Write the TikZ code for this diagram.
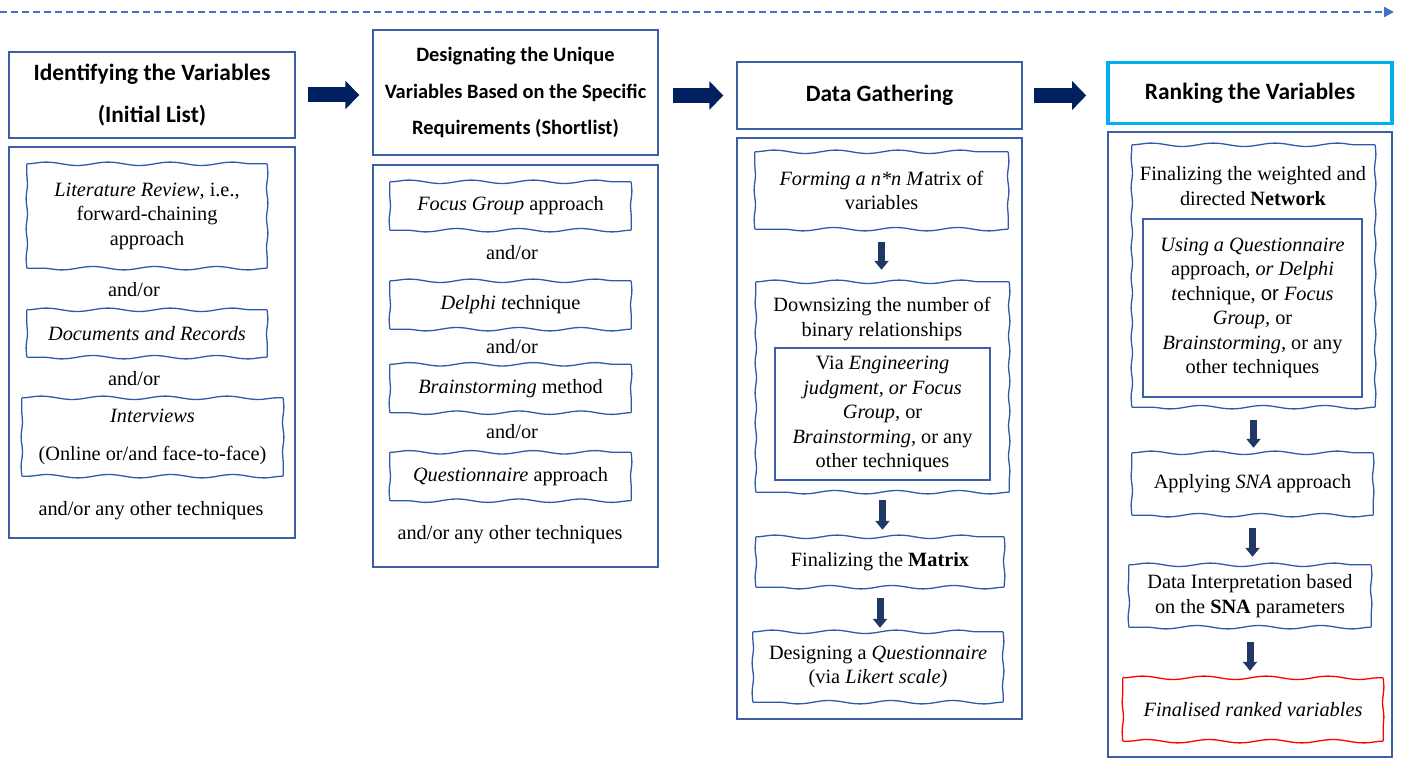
\documentclass[tikz,border=0pt]{standalone}
\usepackage{fontspec}
\setmainfont{Liberation Serif}
\setsansfont{Liberation Sans}
\newfontfamily\headfont{Carlito}
\usetikzlibrary{arrows.meta, fit, decorations.pathmorphing}

\definecolor{boxblue}{HTML}{3B5EA6}
\definecolor{waveblue}{HTML}{2E5AA8}
\definecolor{navy}{HTML}{002060}
\definecolor{arrowblue}{HTML}{1F3864}
\definecolor{cyanline}{HTML}{00B0F0}
\definecolor{lineblue}{HTML}{4472C4}
\newcommand\bodyfont{\fontsize{20.3}{24.5}\selectfont}

\tikzset{
    waveedge/.style={draw=#1, line width=1.3pt, decorate},
    longwave/.style={decoration={snake, segment length=62pt, amplitude=1.7pt}},
    shortwave/.style={decoration={snake, segment length=30pt, amplitude=0.7pt}},
    wavy/.style={align=center, inner sep=0pt, font=\bodyfont,
        append after command={
            (\tikzlastnode.north west) edge[waveedge=#1, longwave] (\tikzlastnode.north east)
            (\tikzlastnode.north east) edge[waveedge=#1, shortwave] (\tikzlastnode.south east)
            (\tikzlastnode.south east) edge[waveedge=#1, longwave] (\tikzlastnode.south west)
            (\tikzlastnode.south west) edge[waveedge=#1, shortwave] (\tikzlastnode.north west)
        }},
    wavy/.default=waveblue
}

\begin{document}
\begin{tikzpicture}[
    x=1pt, y=-1pt,
    frame/.style={draw=boxblue, line width=1.4pt, inner sep=0pt},
    head/.style={draw=boxblue, line width=1.4pt, align=center, inner sep=0pt, font=\headfont\bfseries\fontsize{23.4}{36.5}\selectfont},
    txt/.style={align=center, font=\bodyfont},
    inbox/.style={draw=boxblue, line width=1.3pt, align=center, inner sep=0pt, font=\bodyfont},
    bigarrow/.style={draw=navy, line width=15pt, -{Triangle[length=14pt, width=28pt]}},
    downarrow/.style={draw=arrowblue, line width=7pt, -{Triangle[length=9pt, width=14pt]}},
    timeline/.style={draw=lineblue, line width=2.2pt, dash pattern=on 7pt off 4pt, -{Triangle[length=10pt, width=10pt]}}
]
\useasboundingbox (0,0) rectangle (1402,759);

% time line on top
\coordinate (tl) at (0,12);
\coordinate (tr) at (1394,12);
\draw[timeline] (tl) -- (tr);

% headers
\node[head, minimum width=286pt, minimum height=86pt] (h1) at (152,95) {Identifying the Variables\\[6pt](Initial List)};
\node[head, font=\headfont\bfseries\fontsize{20.4}{36.5}\selectfont, minimum width=285pt, minimum height=125pt] (h2) at (515.5,92.5) {Designating the Unique\\Variables Based on the Specific\\Requirements (Shortlist)};
\node[head, minimum width=285pt, minimum height=67pt] (h3) at (879.5,95.5) {Data Gathering};
\node[head, draw=cyanline, line width=3.6pt, minimum width=284pt, minimum height=61pt] (h4) at (1250,93) {Ranking the Variables};

\draw[bigarrow, shorten <=12pt, shorten >=13pt] (h1.east) -- (h1.east -| h2.west);
\draw[bigarrow, shorten <=14pt, shorten >=13pt] (h3.west -| h2.east) -- (h3.west);
\draw[bigarrow, shorten <=11pt, shorten >=20pt] (h3.east) -- (h3.east -| h4.west);

% frames below the headers
\node[frame, fit={(9,147) (295,538)}] (c1) {};
\node[frame, fit={(373,165) (658,567)}] (c2) {};
\node[frame, fit={(737,138) (1022,719)}] (c3) {};
\node[frame, fit={(1108,132) (1392,757)}] (c4) {};

% column 1
\node[wavy, minimum width=240pt, minimum height=104pt] (lit) at (147,216) {\textit{Literature Review}, i.e.,\\forward-chaining\\approach};
\node[txt] (or1) at (134,290) {and/or};
\node[wavy, minimum width=240pt, minimum height=47pt] (docs) at (147,333.5) {\textit{Documents and Records}};
\node[txt] (or2) at (134,379) {and/or};
\node[wavy, minimum width=261pt, minimum height=78pt] (intv) at (152.5,437) {\textit{Interviews}\\[14pt](Online or/and face-to-face)};
\node[txt] (any1) at (151,511) {and/or any other techniques};

% column 2
\node[wavy, minimum width=241pt, minimum height=48pt] (focus) at (510.5,206) {\textit{Focus Group} approach};
\node[txt] (or3) at (512,253) {and/or};
\node[wavy, minimum width=241pt, minimum height=48pt] (delphi) at (510.5,305) {\textit{Delphi t}echnique};
\node[txt] (or4) at (512,347) {and/or};
\node[wavy, minimum width=241pt, minimum height=48pt] (brain) at (510.5,388.5) {\textit{Brainstorming} method};
\node[txt] (or5) at (512,432) {and/or};
\node[wavy, minimum width=241pt, minimum height=48pt] (quest) at (510.5,476.5) {\textit{Questionnaire} approach};
\node[txt] (any2) at (510,535) {and/or any other techniques};

% column 3
\node[wavy, minimum width=253pt, minimum height=77pt] (form) at (881.5,190.5) {\textit{Forming a n*n M}atrix of\\variables};
\node[wavy, minimum width=253pt, minimum height=210pt] (down) at (882.5,387) {};
\node[txt] (downtxt) at (882,319) {Downsizing the number of\\binary relationships};
\node[inbox, minimum width=215pt, minimum height=132pt] (via) at (882.5,414) {Via \textit{Engineering}\\\textit{judgment, or Focus}\\\textit{Group,} or\\\textit{Brainstorming,} or any\\other techniques};
\node[wavy, minimum width=248pt, minimum height=50pt] (mat) at (880,562) {Finalizing the \textbf{Matrix}};
\node[wavy, minimum width=250pt, minimum height=70pt] (likert) at (878,667) {Designing a \textit{Questionnaire}\\(via \textit{Likert scale)}};

\draw[downarrow, shorten <=13pt, shorten >=12pt] (form.south) -- (form.south |- down.north);
\draw[downarrow, shorten <=8pt, shorten >=7pt] (down.south) -- (down.south |- mat.north);
\draw[downarrow, shorten <=11pt, shorten >=4pt] (mat.south) -- (mat.south |- likert.north);

% column 4
\node[wavy, minimum width=243pt, minimum height=262pt] (net) at (1253.5,276) {};
\node[txt] (nettxt) at (1253,186) {Finalizing the weighted and\\directed \textbf{Network}};
\node[inbox, minimum width=219pt, minimum height=178pt] (usq) at (1252.5,308) {\textit{Using a Questionnaire}\\approach\textit{, or Delphi}\\\textit{t}echnique, {\sffamily or} \textit{Focus}\\\textit{Group,} or\\\textit{Brainstorming,} or any\\other techniques};
\node[wavy, minimum width=241pt, minimum height=62pt] (sna) at (1252.5,484) {Applying \textit{SNA} approach};
\node[wavy, minimum width=242pt, minimum height=62pt] (interp) at (1250,596) {Data Interpretation based\\on the \textbf{SNA} parameters};
\node[wavy=red, minimum width=260pt, minimum height=63pt] (final) at (1253,709.5) {\textit{Finalised ranked variables}};

\draw[downarrow, shorten <=13pt, shorten >=5pt] (net.south) -- (net.south |- sna.north);
\draw[downarrow, shorten <=13pt, shorten >=8pt] (sna.south) -- (sna.south |- interp.north);
\draw[downarrow, shorten <=15pt, shorten >=7pt] (interp.south) -- (interp.south |- final.north);

\end{tikzpicture}
\end{document}
